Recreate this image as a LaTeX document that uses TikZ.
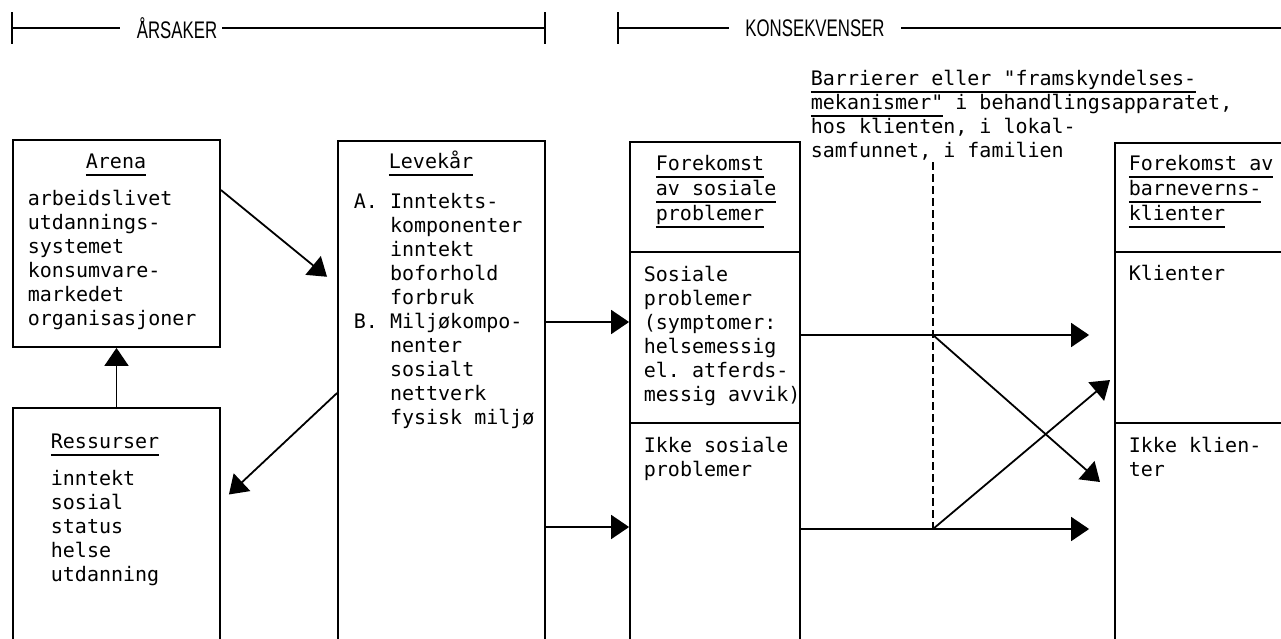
\documentclass[tikz,border=0pt]{standalone}
\usepackage{fontspec}
\setmonofont{DejaVu Sans Mono}
\newfontfamily\headfont[FakeStretch=0.7]{Liberation Sans}
\usetikzlibrary{arrows.meta,fit}
\newcommand{\mono}{\ttfamily\fontsize{10pt}{12pt}\selectfont\frenchspacing}
\newcommand{\ulin}[1]{\setbox0\hbox{#1}\rlap{\rule[-4pt]{\wd0}{0.8pt}}\box0\relax}
\newcommand{\ind}{\phantom{A. }}

\begin{document}
\begin{tikzpicture}[
  x=0.5pt,y=-0.5pt,
  line width=0.9pt,
  every node/.style={inner sep=0pt},
  box/.style={draw,inner sep=0pt},
  txt/.style={font=\mono,align=left,anchor=base west},
  head/.style={font=\headfont\fontsize{12pt}{12pt}\selectfont},
  arr/.style={-{Triangle[length=9pt,width=12pt]}},
  barrier/.style={dash pattern=on 4pt off 2pt,line width=0.7pt}
]
  \useasboundingbox (0,0) rectangle (1281,638);
  \clip (0,0) rectangle (1281,638);

  \node[head] (arsaker) at (177,28) {ÅRSAKER};
  \node[head] (konsekv) at (815,28) {KONSEKVENSER};
  \coordinate (lefttick) at (12,28);
  \coordinate (midtick) at (545,28);
  \coordinate (righttick) at (618,28);
  \coordinate (rightend) at (1281,28);
  \draw (lefttick) -- ([xshift=-8pt]arsaker.west);
  \draw ([xshift=2pt]arsaker.east) -- (midtick);
  \draw (righttick) -- ([xshift=-8pt]konsekv.west);
  \draw ([xshift=8pt]konsekv.east) -- (rightend);
  \draw ([yshift=8pt]lefttick) -- ([yshift=-8pt]lefttick);
  \draw ([yshift=8pt]midtick) -- ([yshift=-8pt]midtick);
  \draw ([yshift=8pt]righttick) -- ([yshift=-8pt]righttick);

  \node[box,fit={(13,140) (220,347)}] (arena) {};
  \node[box,fit={(13,408) (220,700)}] (ressurser) {};
  \node[box,fit={(338,141) (545,700)}] (levekar) {};
  \node[box,fit={(630,142) (800,700)}] (fsos) {};
  \node[box,fit={(1115,143) (1330,700)}] (fbv) {};
  \draw (fsos.west |- 0,252) -- (fsos.east |- 0,252);
  \draw (fsos.west |- 0,423) -- (fsos.east |- 0,423);
  \draw (fbv.west |- 0,252) -- (fbv.east |- 0,252);
  \draw (fbv.west |- 0,423) -- (fbv.east |- 0,423);

  \node[txt,anchor=base] (arenattl) at (116,168) {\ulin{Arena}};
  \node[txt] (arenalst) at (27,325) {arbeidslivet\\utdannings-\\systemet\\konsumvare-\\markedet\\organisasjoner};
  \node[txt] (levttl) at (388,168) {\ulin{Levekår}};
  \node[txt] (levlst) at (353,424) {A. Inntekts-\\\ind komponenter\\\ind inntekt\\\ind boforhold\\\ind forbruk\\B. Miljøkompo-\\\ind nenter\\\ind sosialt\\\ind nettverk\\\ind fysisk miljø};
  \node[txt] (resttl) at (50,448) {\ulin{Ressurser}};
  \node[txt] (reslst) at (50,581) {inntekt\\sosial\\status\\helse\\utdanning};
  \node[txt] (fsosttl) at (655,220) {\ulin{Forekomst}\\[0.5pt]\ulin{av sosiale}\\[0.5pt]\ulin{problemer}};
  \node[txt] (sosprob) at (643,401) {Sosiale\\problemer\\(symptomer:\\helsemessig\\el. atferds-\\messig avvik)};
  \node[txt] (ikkesos) at (643,476) {Ikke sosiale\\problemer};
  \node[txt] (fbvttl) at (1128,220) {\ulin{Forekomst av}\\[0.5pt]\ulin{barneverns-}\\[0.5pt]\ulin{klienter}};
  \node[txt] (klienter) at (1128,280) {Klienter};
  \node[txt] (ikkekl) at (1128,476) {Ikke klien-\\ter};
  \node[txt] (barriere) at (810,157) {\ulin{Barrierer eller "framskyndelses-}\\\ulin{mekanismer"} i behandlingsapparatet,\\hos klienten, i lokal-\\samfunnet, i familien};

  \coordinate (bartop) at (933,162);
  \coordinate (cross1) at (933,335);
  \coordinate (cross2) at (933,529);
  \coordinate (tipikke) at (1100,482);
  \coordinate (tipklient) at (1110,380);

  \draw[arr,shorten >=6.5pt] (arena.east |- 0,190) -- (levekar.west |- 0,285);
  \draw[arr,shorten >=5.5pt] (levekar.west |- 0,393) -- (ressurser.east |- 0,502);
  \draw[arr] (ressurser.north) -- (arena.south);
  \draw[arr] (levekar.east |- 0,322) -- (fsos.west |- 0,322);
  \draw[arr] (levekar.east |- 0,527) -- (fsos.west |- 0,527);
  \draw[barrier] (bartop) -- (cross2);
  \draw[arr,shorten >=12.5pt] (fsos.east |- cross1) -- (fbv.west |- cross1);
  \draw[arr,shorten >=12.5pt] (fsos.east |- cross2) -- (fbv.west |- cross2);
  \draw[arr] (cross1) -- (tipikke);
  \draw[arr] (cross2) -- (tipklient);
\end{tikzpicture}
\end{document}
